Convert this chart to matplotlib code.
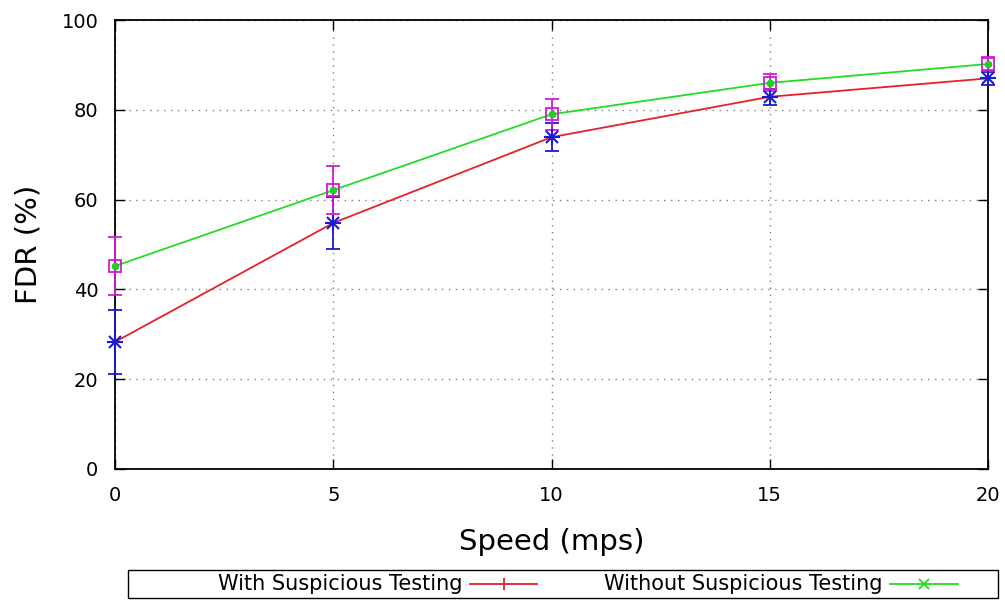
import matplotlib
matplotlib.use("Agg")
import matplotlib.pyplot as plt
from matplotlib.lines import Line2D
from matplotlib.patches import Rectangle

speed = [0, 5, 10, 15, 20]
fdr_with = [28.3, 54.8, 73.9, 82.9, 87.0]
err_with = [7.2, 5.7, 3.1, 1.8, 1.5]
fdr_without = [45.2, 62.1, 79.0, 86.0, 90.2]
err_without = [6.5, 5.4, 3.4, 1.9, 1.6]
labels = ["With Suspicious Testing", "Without Suspicious Testing"]

W, H = 1005, 600
RED, GREEN, BLUE, MAGENTA = "#e8202a", "#22dd22", "#1a1ad0", "#d21ad2"

fig = plt.figure(figsize=(W / 100, H / 100), dpi=100)
ax = fig.add_axes([115 / W, 1 - 469 / H, (988 - 115) / W, (469 - 20) / H])

# lines
ax.plot(speed, fdr_with, color=RED, lw=1.3, zorder=3)
ax.plot(speed, fdr_without, color=GREEN, lw=1.3, zorder=3)

# error bars with point markers
eb1 = ax.errorbar(speed, fdr_with, yerr=err_with, fmt="none", ecolor=BLUE,
                  elinewidth=1.3, capsize=5, capthick=1.3, zorder=4)
eb2 = ax.errorbar(speed, fdr_without, yerr=err_without, fmt="none", ecolor=MAGENTA,
                  elinewidth=1.3, capsize=5, capthick=1.3, zorder=4)
for eb in (eb1, eb2):
    for art in eb.lines[1] + eb.lines[2]:
        art.set_clip_on(False)
ax.plot(speed, fdr_with, ls="none", marker="+", ms=11, mew=1.5,
        color=BLUE, zorder=5, clip_on=False)
ax.plot(speed, fdr_with, ls="none", marker="x", ms=8, mew=1.5,
        color=BLUE, zorder=5, clip_on=False)
ax.plot(speed, fdr_without, ls="none", marker="s", ms=9, mew=1.3,
        mfc="none", mec=MAGENTA, zorder=5, clip_on=False)
ax.plot(speed, fdr_without, ls="none", marker="o", ms=4.5,
        color="#22cc22", zorder=6, clip_on=False)

ax.set_xlim(0, 20)
ax.set_ylim(0, 100)
ax.set_xticks([0, 5, 10, 15, 20])
ax.set_yticks([0, 20, 40, 60, 80, 100])
ax.tick_params(direction="in", length=7, width=1, labelsize=14,
               top=True, right=True)
ax.tick_params(axis="y", pad=12)
ax.tick_params(axis="x", pad=12)
ax.grid(True, color="#808080", ls=(0, (1, 4)), lw=1)
for s in ax.spines.values():
    s.set_linewidth(1.3)

ax.set_xlabel("Speed (mps)", fontsize=21, labelpad=17)
ax.set_ylabel("FDR (%)", fontsize=21, labelpad=14)

# key box along the bottom
fig.patches.append(Rectangle((128 / W, 1 - 598 / H), (998 - 128) / W, 28 / H,
                             transform=fig.transFigure, fill=False,
                             edgecolor="black", lw=1.0))
ky = 1 - 584 / H
entries = [
    (labels[0], 462, 470, 537, RED, "|", 9),
    (labels[1], 882, 890, 958, GREEN, "x", 7),
]
for text, tx, x0, x1, col, mk, ms in entries:
    fig.text(tx / W, ky, text, ha="right", va="center", fontsize=15)
    fig.add_artist(Line2D([x0 / W, x1 / W], [ky, ky], color=col, lw=1.3,
                          transform=fig.transFigure))
    fig.add_artist(Line2D([(x0 + x1) / 2 / W], [ky], color=col, marker=mk,
                          ms=ms, mew=1.3, ls="none", transform=fig.transFigure))

fig.savefig("out.png", dpi=100)
